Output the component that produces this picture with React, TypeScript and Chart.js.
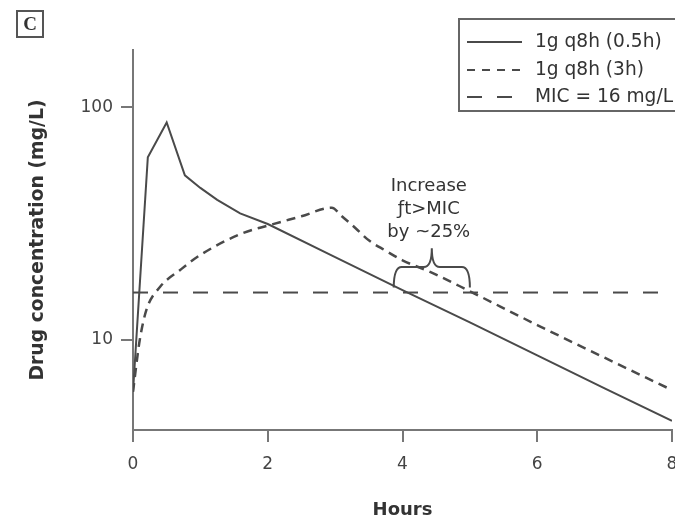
import React, { useEffect, useRef } from "react";
import { Chart, registerables } from "chart.js";

Chart.register(...registerables);

// Infusion over 0.5 h
const hoursShort = [0, 0.22, 0.5, 0.77, 1, 1.25, 1.59, 2, 3, 4, 5, 6, 7, 8];
const concShort = [6, 61, 86, 51, 45, 40, 35, 31.5, 22.7, 16.4, 11.9, 8.6, 6.2, 4.5];

// Extended infusion over 3 h
const hoursLong = [0, 0.1, 0.2, 0.4, 0.7, 1, 1.59, 2, 2.5, 2.95, 3.1, 3.3, 3.5, 3.75, 4, 4.45, 5, 6, 7, 8];
const concLong = [6, 10, 13.5, 16.9, 20, 23.2, 28.5, 31, 34, 37, 34, 30.3, 26.8, 24.2, 22, 19.4, 16.2, 11.6, 8.4, 6.1];

// MIC
const micHours = [0, 8];
const micConc = [16, 16];

const xTicks = [0, 2, 4, 6, 8];
const yTicks = [10, 100];
const legendLabels = ["1g q8h (0.5h)", "1g q8h (3h)", "MIC = 16 mg/L"];
const annotationLines = ["Increase", "\u0192t>MIC", "by ~25%"];
const annotationHour = 4.39;
const annotationConc = 45.8;
const braceHours = [3.87, 5.0];
const braceConc = [16.8, 20.6, 24.8]; // ends, shoulder, tip

const AXIS = "#777";
const LINE = "#4a4a4a";
const TEXT = "#333";
const FONT = "'DejaVu Sans', Verdana, sans-serif";

const decor = {
  id: "decor",
  afterDraw(chart: any) {
    const { ctx, scales } = chart;
    const x = scales.x;
    const y = scales.y;
    ctx.save();

    // Panel letter box
    ctx.strokeStyle = "#555";
    ctx.lineWidth = 2;
    ctx.strokeRect(17, 11, 26, 26);
    ctx.fillStyle = "#333";
    ctx.font = "bold 19px 'Liberation Serif', 'DejaVu Serif', serif";
    ctx.textAlign = "center";
    ctx.textBaseline = "middle";
    ctx.fillText("C", 30, 25);

    // Legend box
    ctx.strokeStyle = "#666";
    ctx.lineWidth = 2;
    ctx.strokeRect(459, 19, 240, 92);
    const rows = [42, 70, 97];
    const dashes = [[], [8, 7], [15, 15]];
    ctx.font = `18.6px ${FONT}`;
    ctx.textAlign = "left";
    ctx.textBaseline = "middle";
    rows.forEach((ry, i) => {
      ctx.beginPath();
      ctx.setLineDash(dashes[i]);
      ctx.strokeStyle = LINE;
      ctx.lineWidth = 2;
      ctx.moveTo(467, ry);
      ctx.lineTo(522, ry);
      ctx.stroke();
      ctx.setLineDash([]);
      ctx.fillStyle = TEXT;
      ctx.fillText(legendLabels[i], 535, ry);
    });

    // Annotation text
    ctx.font = `18px ${FONT}`;
    ctx.textAlign = "center";
    ctx.fillStyle = TEXT;
    const ax = x.getPixelForValue(annotationHour);
    const ay = y.getPixelForValue(annotationConc);
    annotationLines.forEach((t, i) => ctx.fillText(t, ax, ay + i * 23));

    // Brace
    const x0 = x.getPixelForValue(braceHours[0]);
    const x1 = x.getPixelForValue(braceHours[1]);
    const xm = (x0 + x1) / 2;
    const yEnd = y.getPixelForValue(braceConc[0]);
    const yMid = y.getPixelForValue(braceConc[1]);
    const yTip = y.getPixelForValue(braceConc[2]);
    const r = 8;
    ctx.beginPath();
    ctx.strokeStyle = LINE;
    ctx.lineWidth = 2;
    ctx.moveTo(x0, yEnd);
    ctx.quadraticCurveTo(x0, yMid, x0 + r, yMid);
    ctx.lineTo(xm - r, yMid);
    ctx.quadraticCurveTo(xm, yMid, xm, yTip);
    ctx.quadraticCurveTo(xm, yMid, xm + r, yMid);
    ctx.lineTo(x1 - r, yMid);
    ctx.quadraticCurveTo(x1, yMid, x1, yEnd);
    ctx.stroke();

    ctx.restore();
  },
};

export default function App() {
  const ref = useRef<HTMLCanvasElement | null>(null);

  useEffect(() => {
    if (!ref.current) return;
    const chart = new Chart(ref.current, {
      type: "line",
      data: {
        datasets: [
          {
            label: legendLabels[0],
            data: hoursShort.map((h, i) => ({ x: h, y: concShort[i] })),
            borderColor: LINE,
            borderWidth: 2,
            pointRadius: 0,
            tension: 0,
          },
          {
            label: legendLabels[1],
            data: hoursLong.map((h, i) => ({ x: h, y: concLong[i] })),
            borderColor: LINE,
            borderWidth: 2.5,
            borderDash: [9, 6],
            pointRadius: 0,
            cubicInterpolationMode: "monotone",
          },
          {
            label: legendLabels[2],
            data: micHours.map((h, i) => ({ x: h, y: micConc[i] })),
            borderColor: LINE,
            borderWidth: 2,
            borderDash: [15, 15],
            pointRadius: 0,
          },
        ],
      },
      options: {
        animation: false,
        responsive: false,
        layout: { padding: { top: 50, right: 3, left: 0, bottom: 0 } },
        plugins: { legend: { display: false }, tooltip: { enabled: false } },
        scales: {
          x: {
            type: "linear",
            min: 0,
            max: 8,
            afterBuildTicks: (s: any) => {
              s.ticks = xTicks.map((v) => ({ value: v }));
            },
            afterFit: (s: any) => {
              s.height = 91;
              s.paddingLeft = 0;
              s.paddingRight = 0;
            },
            grid: { drawOnChartArea: false, drawTicks: true, tickLength: 12, color: AXIS, lineWidth: 2 },
            border: { display: true, color: AXIS, width: 2 },
            ticks: { color: "#444", font: { family: FONT, size: 17 }, padding: 12, maxRotation: 0 },
            title: {
              display: true,
              text: "Hours",
              color: TEXT,
              font: { family: FONT, size: 18, weight: "bold" },
              padding: { top: 0, bottom: 0 },
            },
          },
          y: {
            type: "logarithmic",
            min: 4.11,
            max: 176,
            afterBuildTicks: (s: any) => {
              s.ticks = yTicks.map((v) => ({ value: v }));
            },
            afterFit: (s: any) => {
              s.width = 133;
              s.paddingTop = 0;
              s.paddingBottom = 0;
            },
            grid: { drawOnChartArea: false, drawTicks: true, tickLength: 12, color: AXIS, lineWidth: 2 },
            border: { display: true, color: AXIS, width: 2 },
            ticks: {
              color: "#444",
              font: { family: FONT, size: 17 },
              padding: 8,
              callback: (v: any) => String(v),
            },
            title: {
              display: true,
              text: "Drug concentration (mg/L)",
              color: TEXT,
              font: { family: FONT, size: 18.8, weight: "bold" },
              padding: { top: 27, bottom: 0 },
            },
          },
        },
      },
      plugins: [decor],
    });
    return () => chart.destroy();
  }, []);

  return (
    <div style={{ position: "fixed", left: 0, top: 0, width: 675, height: 521, overflow: "hidden", background: "#fff" }}>
      <canvas ref={ref} width={675} height={521} style={{ display: "block" }} />
    </div>
  );
}
